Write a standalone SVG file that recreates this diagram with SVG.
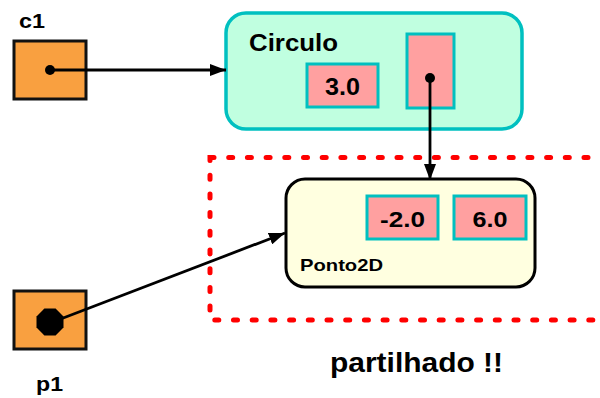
<svg xmlns="http://www.w3.org/2000/svg" width="600" height="398" viewBox="0 0 600 398">
  <style>
    .lbl { font-family: "Liberation Sans", Arial, sans-serif; font-weight: bold; fill: #000; }
    .var { fill: #F9A040; stroke: #111; stroke-width: 3; }
    .field { fill: #FFA0A0; stroke: #00C0C0; stroke-width: 3; }
    .conn { stroke: #000; stroke-width: 2.8; fill: none; marker-end: url(#arrow); }
  </style>
  <defs>
    <marker id="arrow" viewBox="0 0 16 12" refX="16" refY="6" markerWidth="16" markerHeight="12" markerUnits="userSpaceOnUse" orient="auto">
      <path d="M0,0 L16,6 L0,12 z" fill="#000"/>
    </marker>
  </defs>

  <rect width="600" height="398" fill="#fff"/>

  <!-- shared-object region -->
  <rect x="210" y="157.5" width="400" height="162.5" fill="none" stroke="#FF0000" stroke-width="5" stroke-linecap="round" stroke-dasharray="4 14.7"/>

  <g id="circulo">
    <rect x="226" y="13" width="296" height="116" rx="20" fill="#C0FFE0" stroke="#00C0C0" stroke-width="3.5"/>
    <text class="lbl" x="249" y="51" font-size="23" textLength="89" lengthAdjust="spacingAndGlyphs">Circulo</text>
    <rect class="field" x="307" y="64" width="71" height="43"/>
    <text class="lbl" x="342.5" y="95" font-size="23" text-anchor="middle" textLength="35" lengthAdjust="spacingAndGlyphs">3.0</text>
    <rect class="field" x="407" y="34" width="47" height="74"/>
    <circle cx="430" cy="78" r="5" fill="#000"/>
  </g>

  <g id="ponto2d">
    <rect x="286" y="179" width="249" height="108" rx="19" fill="#FFFFE0" stroke="#000" stroke-width="3"/>
    <rect class="field" x="367" y="196" width="71" height="43"/>
    <text class="lbl" x="402.5" y="227" font-size="22" text-anchor="middle" textLength="45" lengthAdjust="spacingAndGlyphs">-2.0</text>
    <rect class="field" x="454" y="196" width="72" height="43"/>
    <text class="lbl" x="490" y="227" font-size="22" text-anchor="middle" textLength="35" lengthAdjust="spacingAndGlyphs">6.0</text>
    <text class="lbl" x="300" y="271" font-size="17" textLength="83" lengthAdjust="spacingAndGlyphs">Ponto2D</text>
  </g>

  <g id="c1">
    <text class="lbl" x="19" y="28" font-size="21" textLength="26" lengthAdjust="spacingAndGlyphs">c1</text>
    <rect class="var" x="14" y="41" width="72" height="58"/>
    <circle cx="50" cy="70" r="5" fill="#000"/>
  </g>

  <g id="p1">
    <rect class="var" x="14" y="291" width="72" height="58"/>
    <polygon points="63.5,327.6 55.6,335.5 44.4,335.5 36.5,327.6 36.5,316.4 44.4,308.5 55.6,308.5 63.5,316.4" fill="#000"/>
    <text class="lbl" x="36" y="391" font-size="21" textLength="27" lengthAdjust="spacingAndGlyphs">p1</text>
  </g>

  <g id="connectors">
    <line class="conn" x1="50" y1="70" x2="226" y2="70"/>
    <line class="conn" x1="430" y1="78" x2="430" y2="180"/>
    <line class="conn" x1="58" y1="320" x2="285" y2="233"/>
  </g>

  <text class="lbl" x="330" y="372" font-size="27" textLength="173" lengthAdjust="spacingAndGlyphs">partilhado !!</text>
</svg>
